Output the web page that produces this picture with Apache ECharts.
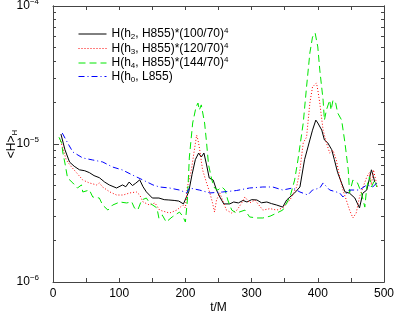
<!DOCTYPE html>
<html lang="en">
<head>
    <meta charset="UTF-8">
    <title>H modes</title>
    <script src="https://cdn.jsdelivr.net/npm/echarts/dist/echarts.min.js"></script>
    <style>
        html, body { margin: 0; padding: 0; background: #fff; }
        #chart1 { width: 395px; height: 321px; }
    </style>
</head>
<body>
<div id="chart1"></div>
<script type="text/javascript">
    // [t/M, <H>_H]
    var h2Data = [[12, 1.18e-5], [15, 1.22e-5], [18, 9.1e-6], [25, 7.4e-6], [32, 6.9e-6], [40, 6.5e-6], [48, 6.4e-6],
        [55, 6.2e-6], [62, 5.9e-6], [70, 5.7e-6], [78, 5.3e-6], [85, 5.05e-6], [96, 4.8e-6], [105, 5.05e-6],
        [110, 4.9e-6], [115, 5.3e-6], [120, 5.0e-6], [125, 5.2e-6], [131, 5.5e-6], [136, 4.9e-6], [141, 4.5e-6],
        [150, 4.06e-6], [160, 4.06e-6], [168, 3.95e-6], [175, 3.93e-6], [183, 3.9e-6], [190, 3.86e-6],
        [197, 3.68e-6], [200, 3.56e-6], [205, 4.5e-6], [210, 6.0e-6], [215, 7.7e-6], [220, 8.6e-6],
        [224, 8.05e-6], [228, 8.6e-6], [232, 7.05e-6], [236, 5.67e-6], [242, 5.48e-6], [247, 4.64e-6],
        [252, 4.13e-6], [258, 3.68e-6], [267, 3.68e-6], [273, 3.8e-6], [280, 3.74e-6], [287, 3.9e-6],
        [293, 3.8e-6], [300, 3.95e-6], [308, 3.93e-6], [315, 3.75e-6], [323, 3.8e-6], [330, 3.7e-6],
        [338, 3.61e-6], [347, 3.49e-6], [353, 3.93e-6], [358, 4.13e-6], [365, 4.42e-6], [373, 4.88e-6],
        [380, 7.7e-6], [388, 1.07e-5], [392, 1.26e-5], [397, 1.49e-5], [400, 1.42e-5], [406, 1.26e-5],
        [410, 1.07e-5], [415, 1.02e-5], [421, 9.1e-6], [425, 7.7e-6], [430, 6.2e-6], [436, 5.2e-6],
        [441, 4.5e-6], [448, 4.4e-6], [456, 4.06e-6], [463, 3.44e-6], [468, 4.4e-6], [474, 4.64e-6],
        [481, 6.5e-6], [484, 5.8e-6], [486, 5.3e-6]];
    var h3Data = [[10, 1.10e-5], [12, 1.12e-5], [15, 9.3e-6], [20, 7.66e-6], [28, 6.81e-6], [36, 6.16e-6],
        [45, 5.48e-6], [55, 5.22e-6], [66, 5.05e-6], [70, 5.22e-6], [75, 4.88e-6], [86, 4.49e-6],
        [96, 4.27e-6], [106, 4.27e-6], [116, 4.42e-6], [126, 4.49e-6], [131, 4.27e-6], [136, 3.8e-6],
        [146, 3.61e-6], [154, 3.74e-6], [161, 3.32e-6], [176, 3.16e-6], [187, 3.32e-6], [196, 3.61e-6],
        [200, 3.44e-6], [203, 4.88e-6], [209, 6.48e-6], [214, 9.35e-6], [217, 1.16e-5], [219, 1.07e-5],
        [221, 9.5e-6], [226, 6.48e-6], [232, 5.22e-6], [237, 4.42e-6], [241, 3.74e-6], [244, 3.21e-6],
        [247, 3.93e-6], [252, 4.42e-6], [256, 3.93e-6], [262, 3.32e-6], [270, 3.16e-6], [278, 3.32e-6],
        [285, 3.74e-6], [290, 4.13e-6], [297, 3.74e-6], [305, 3.93e-6], [317, 3.32e-6], [328, 3.4e-6],
        [338, 3.32e-6], [347, 3.44e-6], [358, 3.93e-6], [368, 4.88e-6], [373, 6.48e-6], [378, 1.02e-5],
        [383, 1.12e-5], [388, 1.98e-5], [392, 2.59e-5], [398, 2.77e-5], [400, 2.46e-5], [403, 1.98e-5],
        [408, 1.26e-5], [413, 1.02e-5], [418, 8.6e-6], [423, 9.0e-6], [428, 7.66e-6], [433, 5.77e-6],
        [438, 4.64e-6], [443, 3.93e-6], [448, 3.32e-6], [453, 2.91e-6], [458, 3.16e-6], [463, 4.13e-6],
        [474, 5.77e-6], [478, 6.2e-6], [481, 5.05e-6], [484, 6.5e-6], [490, 4.9e-6]];
    var h4Data = [[9, 1.12e-5], [13, 1.02e-5], [15, 8.6e-6], [18, 7.28e-6], [22, 5.67e-6], [30, 5.22e-6],
        [37, 4.8e-6], [43, 5.05e-6], [45, 4.49e-6], [55, 4.64e-6], [60, 4.13e-6], [70, 4.06e-6],
        [75, 3.61e-6], [83, 3.32e-6], [90, 3.61e-6], [101, 3.8e-6], [111, 3.74e-6], [119, 3.8e-6],
        [123, 3.44e-6], [128, 3.32e-6], [134, 3.93e-6], [141, 4.06e-6], [146, 3.74e-6], [157, 3.44e-6],
        [160, 2.9e-6], [165, 3.06e-6], [171, 2.72e-6], [180, 2.96e-6], [191, 3.21e-6], [196, 3.0e-6],
        [200, 2.72e-6], [203, 3.93e-6], [206, 8.05e-6], [211, 1.42e-5], [216, 1.85e-5], [219, 1.98e-5],
        [221, 1.76e-5], [224, 1.92e-5], [229, 1.42e-5], [232, 1.02e-5], [235, 7.05e-6], [240, 5.48e-6],
        [244, 4.8e-6], [249, 4.64e-6], [255, 4.88e-6], [260, 4.64e-6], [264, 3.93e-6], [270, 3.32e-6],
        [277, 3.16e-6], [290, 3.32e-6], [297, 2.96e-6], [308, 2.91e-6], [317, 2.91e-6], [328, 3.0e-6],
        [338, 3.16e-6], [347, 3.32e-6], [358, 4.13e-6], [365, 5.48e-6], [370, 7.66e-6], [378, 1.42e-5],
        [383, 2.59e-5], [388, 4.56e-5], [392, 5.96e-5], [396, 6.37e-5], [400, 5.05e-5], [403, 3.44e-5],
        [408, 2.08e-5], [410, 1.49e-5], [413, 1.76e-5], [418, 2.08e-5], [420, 1.76e-5], [423, 2.08e-5],
        [427, 1.98e-5], [430, 1.68e-5], [436, 1.49e-5], [441, 1.02e-5], [446, 6.48e-6], [448, 4.42e-6],
        [453, 5.48e-6], [460, 5.22e-6], [466, 4.42e-6], [471, 3.49e-6], [474, 4.88e-6], [478, 5.77e-6],
        [481, 4.88e-6], [486, 5.48e-6], [489, 4.88e-6]];
    var h0Data = [[14, 1.2e-5], [17, 1.22e-5], [22, 1.02e-5], [30, 8.75e-6], [45, 7.92e-6], [60, 7.66e-6],
        [75, 7.41e-6], [90, 6.81e-6], [105, 6.48e-6], [120, 5.96e-6], [136, 5.48e-6], [151, 5.05e-6],
        [161, 4.88e-6], [176, 4.8e-6], [191, 4.64e-6], [202, 4.42e-6], [206, 4.8e-6], [221, 4.64e-6],
        [237, 4.42e-6], [256, 4.49e-6], [277, 4.6e-6], [297, 4.8e-6], [317, 4.88e-6], [332, 4.88e-6],
        [347, 4.64e-6], [362, 4.8e-6], [373, 4.49e-6], [385, 4.27e-6], [392, 4.64e-6], [403, 4.8e-6],
        [408, 5.22e-6], [418, 4.64e-6], [433, 4.42e-6], [438, 4.13e-6], [448, 4.64e-6], [463, 4.64e-6],
        [474, 5.05e-6], [483, 4.88e-6], [489, 5.22e-6]];

    var seriesNames = ['h2', 'h3', 'h4', 'h0'];
    var legendText = {
        h2: '{a|H(h}{sub|2}{a|, H855)*(100/70)}{sup|4}',
        h3: '{a|H(h}{sub|3}{a|, H855)*(120/70)}{sup|4}',
        h4: '{a|H(h}{sub|4}{a|, H855)*(144/70)}{sup|4}',
        h0: '{a|H(h}{sub|0}{a|, L855)}'
    };
    var majorTicks = [1e-6, 1e-5, 1e-4];
    var minorTicks = [2e-6, 3e-6, 4e-6, 5e-6, 6e-6, 7e-6, 8e-6, 9e-6,
        2e-5, 3e-5, 4e-5, 5e-5, 6e-5, 7e-5, 8e-5, 9e-5];

    var axisColor = '#444';
    var font = 'Liberation Sans, Arial, sans-serif';
    var supRich = {
        a: { fontSize: 12, fontFamily: font, color: '#000', lineHeight: 14 },
        b: { fontSize: 12, fontFamily: font, color: '#000', lineHeight: 16 },
        sup: { fontSize: 8, fontFamily: font, color: '#000', verticalAlign: 'top', lineHeight: 6 },
        sub: { fontSize: 8, fontFamily: font, color: '#000', verticalAlign: 'bottom', lineHeight: 6 }
    };

    function logAxis(pos, ticks, len, labels) {
        return {
            type: 'log', logBase: 10, min: 1e-6, max: 1e-4, position: pos,
            axisLine: { show: true, lineStyle: { color: axisColor, width: 1 } },
            axisTick: { show: true, inside: true, length: len, customValues: ticks, lineStyle: { color: axisColor } },
            axisLabel: labels ? {
                show: true, customValues: majorTicks, margin: 14,
                formatter: function (v) {
                    var e = Math.round(Math.log10(v));
                    return '{b|10}{sup|\u2212' + Math.abs(e) + '}';
                },
                rich: supRich
            } : { show: false },
            splitLine: { show: false }
        };
    }

    var chart1 = echarts.init(document.getElementById('chart1'));
    var yLeft = logAxis('left', majorTicks, 6, true);
    yLeft.name = '{a|<H>}{sub|H}';
    yLeft.nameLocation = 'middle';
    yLeft.nameRotate = 90;
    yLeft.nameGap = 34;
    yLeft.nameMoveOverlap = false;
    yLeft.nameTextStyle = { rich: supRich };

    var xCommon = function (pos, labels) {
        return {
            type: 'value', min: 0, max: 500, interval: 100, position: pos,
            axisLine: { show: true, onZero: false, lineStyle: { color: axisColor, width: 1 } },
            axisTick: { show: true, inside: true, length: 4, lineStyle: { color: axisColor } },
            minorTick: { show: true, splitNumber: 2, length: 4, lineStyle: { color: axisColor } },
            axisLabel: labels ? { show: true, fontSize: 12, fontFamily: font, color: '#000', margin: 6 } : { show: false },
            splitLine: { show: false }
        };
    };
    var xBottom = xCommon('bottom', true);
    xBottom.name = 't/M';
    xBottom.nameLocation = 'middle';
    xBottom.nameGap = 20;
    xBottom.nameMoveOverlap = false;
    xBottom.nameTextStyle = { fontSize: 12, fontFamily: font, color: '#000' };

    var styles = {
        h2: { color: '#000000', type: 'solid' },
        h3: { color: '#ff0000', type: [1, 2] },
        h4: { color: '#00e600', type: [7, 4] },
        h0: { color: '#0000ff', type: [6, 3, 1, 3] }
    };
    var dataMap = { h2: h2Data, h3: h3Data, h4: h4Data, h0: h0Data };

    var option = {
        backgroundColor: '#fff',
        animation: false,
        grid: { left: 53, right: 11, top: 6, bottom: 39, containLabel: false, outerBoundsMode: 'none' },
        legend: {
            orient: 'vertical', left: 73, top: 22,
            itemWidth: 28, itemHeight: 12, itemGap: 0.5,
            data: seriesNames,
            itemStyle: { color: 'transparent', borderWidth: 0 },
            lineStyle: { width: 1 },
            formatter: function (n) { return legendText[n]; },
            textStyle: { rich: supRich }
        },
        xAxis: [xBottom, xCommon('top', false)],
        yAxis: [yLeft, logAxis('left', minorTicks, 3, false),
            logAxis('right', majorTicks, 6, false), logAxis('right', minorTicks, 3, false)],
        series: seriesNames.map(function (n) {
            return {
                name: n, type: 'line', data: dataMap[n],
                xAxisIndex: 0, yAxisIndex: 0,
                showSymbol: false, symbol: 'none',
                color: styles[n].color,
                lineStyle: { width: 1, color: styles[n].color, type: styles[n].type }
            };
        })
    };
    chart1.setOption(option);
</script>
</body>
</html>
